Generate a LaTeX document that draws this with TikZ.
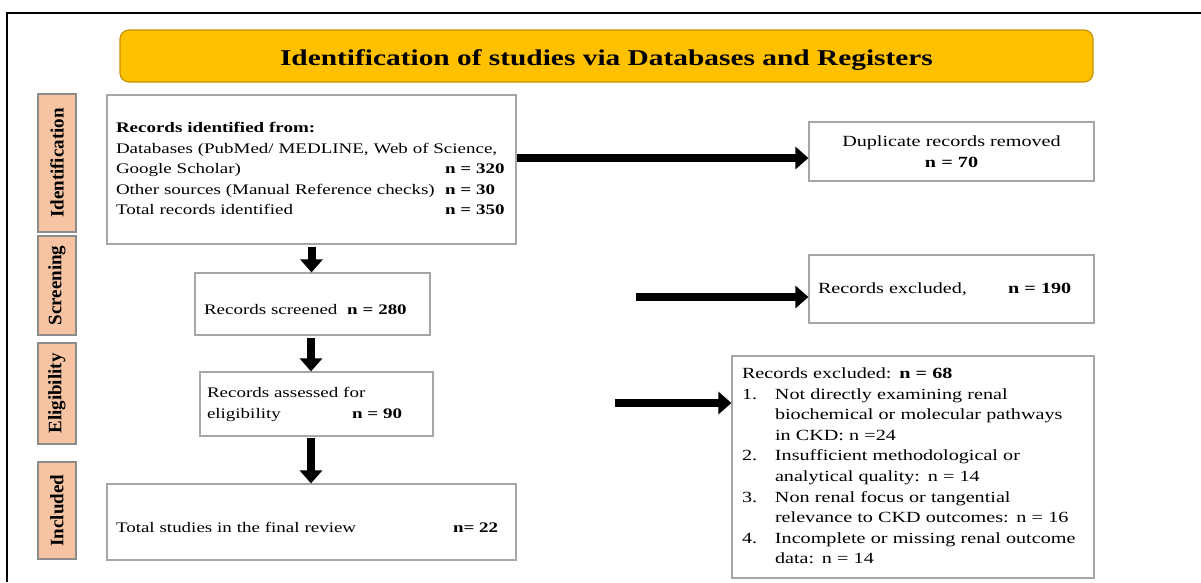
\documentclass[tikz,border=0pt]{standalone}
\usepackage{fontspec}
\setmainfont{Liberation Serif}[FakeStretch=1.3]
\newfontfamily\sidefont{Liberation Serif}
\usetikzlibrary{arrows.meta}
\definecolor{banner}{HTML}{FFC000}
\definecolor{bannerline}{HTML}{C89400}
\definecolor{sidefill}{HTML}{F6C4A2}
\definecolor{sideline}{HTML}{8C8C8C}
\definecolor{boxline}{HTML}{A6A6A6}
\newcommand{\bodysize}{\fontsize{14.6}{20.6}\selectfont}
\newcommand{\rightsize}{\fontsize{15.5}{20.6}\selectfont}
\begin{document}
\begin{tikzpicture}[x=1pt,y=-1pt,
  box/.style={draw=boxline, line width=1.2pt, fill=white, inner sep=0pt, font=\bodysize, align=left},
  rbox/.style={box, font=\rightsize},
  sidelabel/.style={draw=sideline, line width=1.2pt, fill=sidefill, inner sep=0pt, rotate=90,
    minimum height=38pt, font=\sidefont\bfseries\fontsize{19}{22}\selectfont},
  bigarrow/.style={line width=8pt, -{Triangle[length=13pt,width=22pt]}}]
\useasboundingbox (0,0) rectangle (1201,582);
\draw[line width=1.5pt] (7,582) -- (7,13) -- (1201,13);

\node[draw=bannerline, line width=1.2pt, fill=banner, rounded corners=9pt,
  minimum width=973pt, minimum height=52pt, inner sep=0pt, text height=19pt, text depth=0pt,
  font=\bfseries\fontsize{22.6}{27}\selectfont] (title) at (606.5,56)
  {Identification of studies via Databases and Registers};

\node[sidelabel, minimum width=138pt] (sid) at (57,163) {Identification};
\node[sidelabel, minimum width=99pt] (sscr) at (57,285.5) {Screening};
\node[sidelabel, minimum width=101pt] (selig) at (57,393.5) {Eligibility};
\node[sidelabel, minimum width=97pt] (sinc) at (57,510.5) {Included};

\node[box, minimum width=409pt, minimum height=149pt, text width=391pt,
  yshift=-1pt] (box1) at (311.5,168.5)
  {\begin{tabular}{@{}p{329pt}@{}l@{}}
   \multicolumn{2}{@{}l@{}}{\textbf{Records identified from:}}\\
   \multicolumn{2}{@{}l@{}}{Databases (PubMed/ MEDLINE, Web of Science,}\\
   Google Scholar) & \textbf{n = 320}\\
   Other sources (Manual Reference checks) & \textbf{n = 30}\\
   Total records identified & \textbf{n = 350}
   \end{tabular}};

\node[box, minimum width=235pt, minimum height=62pt, text width=217pt,
  text height=20.6pt, text depth=0.6pt] (box2) at (312.5,304)
  {Records screened\ \ \textbf{n = 280}};

\node[box, minimum width=233pt, minimum height=64pt, text width=219pt] (box3) at (316.5,404)
  {\begin{tabular}{@{}p{145pt}@{}l@{}}
   \multicolumn{2}{@{}l@{}}{Records assessed for}\\
   eligibility & \textbf{n = 90}
   \end{tabular}};

\node[box, minimum width=409pt, minimum height=76pt, text width=391pt,
  text height=20.6pt, text depth=0.6pt] (box4) at (311.5,522)
  {\makebox[337pt][l]{Total studies in the final review}\textbf{n= 22}};

\node[rbox, minimum width=285pt, minimum height=59pt, text width=265pt, align=center] (dup) at (951.5,151.5)
  {Duplicate records removed\\ \textbf{n = 70}};

\node[rbox, minimum width=285pt, minimum height=68pt, text width=267pt] (ex190) at (951.5,289)
  {\makebox[190pt][l]{Records excluded,}\textbf{n = 190}};

\node[rbox, minimum width=362pt, minimum height=222pt, text width=342pt] (ex68) at (913,467)
  {\begin{tabular}{@{}p{33pt}@{}l@{}}
   \multicolumn{2}{@{}l@{}}{Records excluded: \textbf{n = 68}}\\
   1. & Not directly examining renal\\
      & biochemical or molecular pathways\\
      & in CKD: n =24\\
   2. & Insufficient methodological or\\
      & analytical quality: n = 14\\
   3. & Non renal focus or tangential\\
      & relevance to CKD outcomes: n = 16\\
   4. & Incomplete or missing renal outcome\\
      & data: n = 14
   \end{tabular}};

\draw[bigarrow] ([yshift=-2pt]box1.south) -- (box1.south |- box2.north);
\draw[bigarrow] ([xshift=-1.5pt,yshift=-2pt]box2.south) -- ([xshift=-1.5pt]box2.south |- box3.north);
\draw[bigarrow] ([xshift=-5.5pt,yshift=-1pt]box3.south) -- ([xshift=-5.5pt]box3.south |- box4.north);

\draw[bigarrow] ([yshift=11.5pt]box1.east) -- ([yshift=11.5pt]box1.east -| dup.west);
\coordinate (h2) at (636,297);
\draw[bigarrow] (h2) -- (h2 -| ex190.west);
\coordinate (h3) at (615,403);
\draw[bigarrow] (h3) -- (h3 -| ex68.west);
\end{tikzpicture}
\end{document}
